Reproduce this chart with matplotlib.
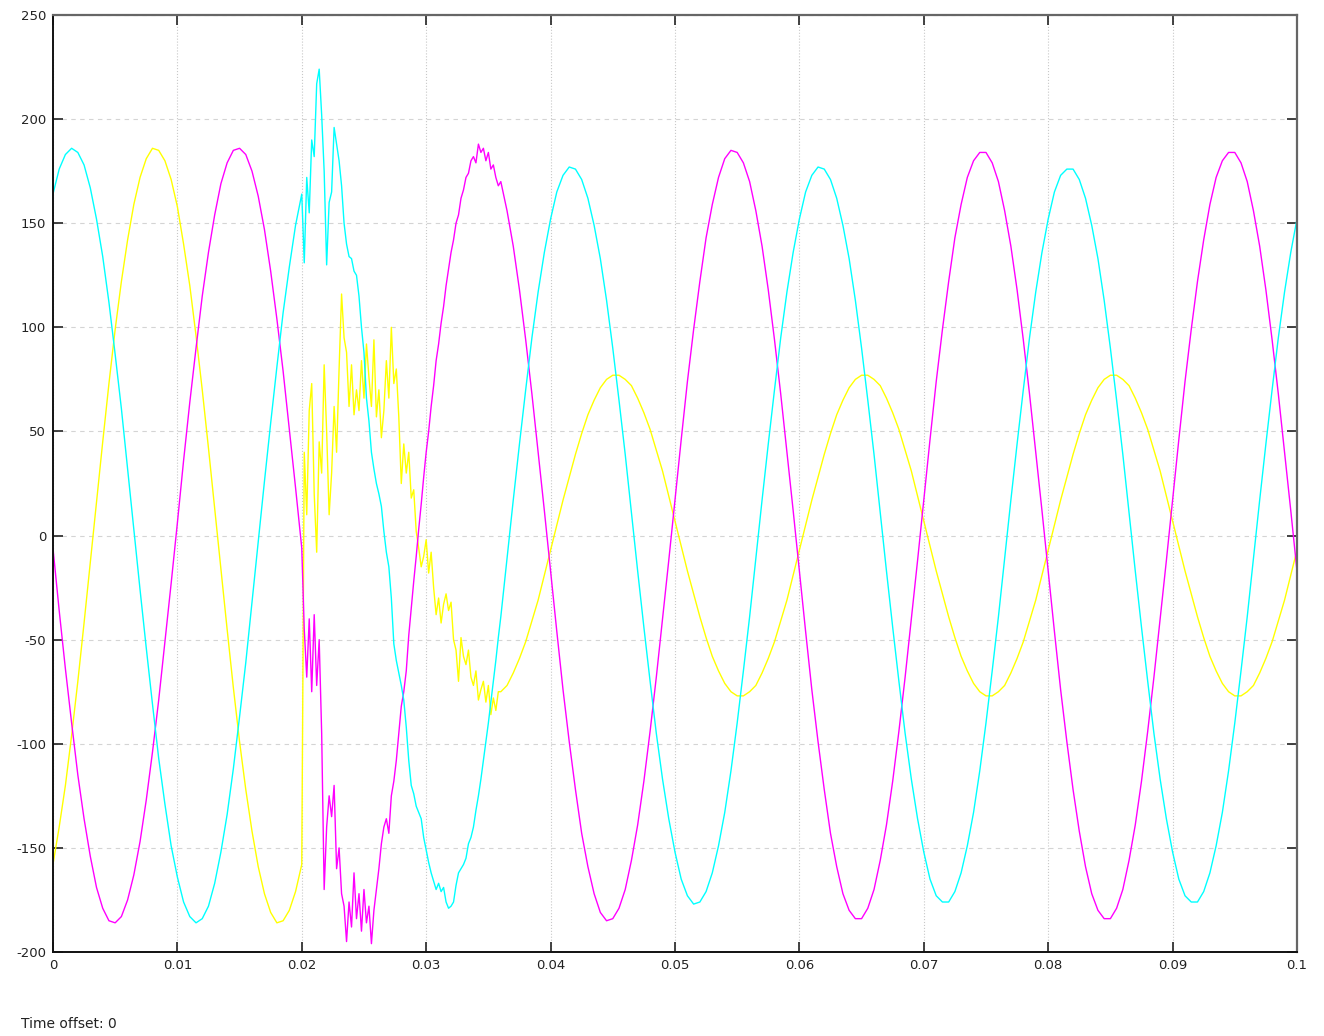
import numpy as np
import matplotlib

matplotlib.use("Agg")
import matplotlib.pyplot as plt
from matplotlib.ticker import FuncFormatter, MultipleLocator


# sample times: 0.5 ms before and after the disturbance, 0.2 ms through it
T_PRE = np.arange(0, 41) * 5e-4
T_FAULT = 0.0202 + np.arange(79) * 2e-4
T_POST = 0.036 + np.arange(129) * 5e-4

# phase values
yellow_pre = [-158, -140, -120, -96, -70, -42, -13, 16, 45, 73,
              99, 122, 142, 159, 172, 181, 186, 185, 180, 171,
              158, 140, 120, 96, 70, 42, 13, -16, -45, -73,
              -99, -122, -142, -159, -172, -181, -186, -185, -180, -171,
              -158]
magenta_pre = [-6, -36, -64, -90, -115, -136, -154, -169, -179, -185,
               -186, -183, -175, -163, -147, -127, -104, -79, -51, -23,
               6, 36, 64, 90, 115, 136, 154, 169, 179, 185,
               186, 183, 175, 163, 147, 127, 104, 79, 51, 23,
               -6]
cyan_pre = [164, 176, 183, 186, 184, 178, 167, 152, 134, 112,
            87, 61, 32, 3, -26, -54, -81, -107, -129, -149,
            -164, -176, -183, -186, -184, -178, -167, -152, -134, -112,
            -87, -61, -32, -3, 26, 54, 81, 107, 129, 149,
            164]

yellow_fault = [40, 10, 60, 73, 20, -8, 45, 30, 82, 50,
                10, 30, 62, 40, 80, 116, 95, 88, 62, 82,
                58, 70, 60, 84, 66, 92, 76, 62, 94, 57,
                70, 47, 60, 84, 66, 100, 73, 80, 57, 25,
                44, 30, 40, 18, 22, 2, -6, -15, -10, -2,
                -18, -8, -25, -38, -30, -42, -33, -28, -36, -32,
                -50, -55, -70, -49, -58, -62, -55, -68, -72, -65,
                -79, -74, -70, -80, -72, -86, -78, -84, -75]
magenta_fault = [-45, -68, -40, -75, -38, -72, -50, -95, -170, -140,
                 -125, -135, -120, -160, -150, -172, -178, -195, -176, -188,
                 -162, -184, -172, -190, -170, -186, -178, -196, -180, -170,
                 -160, -148, -140, -136, -143, -125, -118, -108, -95, -82,
                 -75, -65, -48, -35, -22, -10, 3, 15, 28, 40,
                 50, 62, 72, 84, 92, 102, 110, 120, 128, 136,
                 142, 150, 154, 162, 166, 172, 174, 180, 182, 179,
                 188, 184, 186, 180, 184, 176, 178, 172, 168]
cyan_fault = [131, 172, 155, 190, 182, 217, 224, 202, 175, 130,
              160, 165, 196, 188, 180, 168, 150, 140, 134, 133,
              127, 125, 115, 100, 88, 66, 55, 40, 32, 25,
              20, 14, 2, -8, -15, -30, -52, -60, -66, -72,
              -79, -92, -108, -120, -124, -130, -133, -136, -145, -151,
              -157, -162, -166, -170, -167, -171, -169, -176, -179, -178,
              -176, -168, -162, -160, -158, -155, -148, -145, -140, -132,
              -125, -117, -108, -99, -90, -80, -70, -60, -49]

yellow_post = [-75, -72, -66, -59, -51, -41, -31, -19, -7, 5,
               17, 28, 39, 49, 58, 65, 71, 75, 77, 77,
               75, 72, 66, 59, 51, 41, 31, 19, 7, -5,
               -17, -28, -39, -49, -58, -65, -71, -75, -77, -77,
               -75, -72, -66, -59, -51, -41, -31, -19, -7, 5,
               17, 28, 39, 49, 58, 65, 71, 75, 77, 77,
               75, 72, 66, 59, 51, 41, 31, 19, 7, -5,
               -17, -28, -39, -49, -58, -65, -71, -75, -77, -77,
               -75, -72, -66, -59, -51, -41, -31, -19, -7, 5,
               17, 28, 39, 49, 58, 65, 71, 75, 77, 77,
               75, 72, 66, 59, 51, 41, 31, 19, 7, -5,
               -17, -28, -39, -49, -58, -65, -71, -75, -77, -77,
               -75, -72, -66, -59, -51, -41, -31, -19, -7]
magenta_post = [170, 156, 139, 118, 94, 68, 40, 12, -17, -46,
                -74, -99, -122, -143, -159, -172, -181, -185, -184, -179,
                -170, -156, -139, -118, -94, -68, -40, -12, 17, 46,
                74, 99, 122, 143, 159, 172, 181, 185, 184, 179,
                170, 156, 139, 118, 94, 68, 40, 12, -17, -46,
                -74, -99, -122, -143, -159, -172, -180, -184, -184, -179,
                -170, -156, -139, -118, -94, -68, -40, -12, 17, 46,
                74, 99, 122, 143, 159, 172, 180, 184, 184, 179,
                170, 156, 139, 118, 94, 68, 40, 12, -17, -46,
                -74, -99, -122, -142, -159, -172, -180, -184, -184, -179,
                -170, -156, -139, -118, -94, -68, -40, -12, 17, 46,
                74, 99, 122, 142, 159, 172, 180, 184, 184, 179,
                170, 156, 139, 118, 94, 68, 40, 12, -17]
cyan_post = [-39, -11, 17, 44, 70, 95, 117, 136, 152, 165,
             173, 177, 176, 171, 162, 149, 133, 113, 90, 65,
             39, 11, -17, -44, -70, -95, -117, -136, -152, -165,
             -173, -177, -176, -171, -162, -149, -133, -113, -90, -65,
             -39, -11, 17, 44, 70, 95, 117, 136, 152, 165,
             173, 177, 176, 171, 162, 149, 133, 113, 90, 65,
             39, 11, -17, -44, -70, -95, -117, -136, -152, -165,
             -173, -176, -176, -171, -162, -149, -133, -113, -90, -65,
             -39, -11, 17, 44, 70, 95, 117, 136, 152, 165,
             173, 176, 176, 171, 162, 149, 133, 113, 90, 65,
             39, 11, -17, -44, -70, -95, -117, -136, -152, -165,
             -173, -176, -176, -171, -162, -149, -133, -113, -90, -65,
             -39, -11, 17, 44, 70, 95, 117, 136, 152]

X_TICKS = [0, 0.01, 0.02, 0.03, 0.04, 0.05, 0.06, 0.07, 0.08, 0.09, 0.1]

SERIES = [
    ("#ffff00", yellow_pre, yellow_fault, yellow_post),
    ("#ff00ff", magenta_pre, magenta_fault, magenta_post),
    ("#00ffff", cyan_pre, cyan_fault, cyan_post),
]


def main() -> None:
    plt.rcParams["font.family"] = ["DejaVu Sans"]
    plt.rcParams["axes.unicode_minus"] = False

    fig = plt.figure(figsize=(13.24, 10.36), dpi=100)
    ax = fig.add_axes([0.040, 0.0811, 0.9396, 0.9044])

    t = np.concatenate([T_PRE, T_FAULT, T_POST])
    for color, pre, fault, post in SERIES:
        ax.plot(t, pre + fault + post, color=color, lw=1.0)

    ax.set_xlim(0, 0.1)
    ax.set_ylim(-200, 250)
    ax.set_xticks(X_TICKS)
    ax.yaxis.set_major_locator(MultipleLocator(50))
    ax.xaxis.set_major_formatter(FuncFormatter(lambda v, _: f"{v:g}"))

    # scope style: dotted verticals, dashed horizontals, ticks inside
    ax.xaxis.grid(True, linestyle=":", color="#c8c8c8", lw=0.8)
    ax.yaxis.grid(True, linestyle=(0, (4, 4)), color="#d4d4d4", lw=0.8)
    ax.tick_params(direction="in", length=7, width=1.2, top=True, right=True,
                   labelsize=9.5, pad=5, colors="#222222")
    for side in ("left", "bottom"):
        ax.spines[side].set_color("#111111")
        ax.spines[side].set_linewidth(1.4)
    for side in ("top", "right"):
        ax.spines[side].set_color("#666666")
        ax.spines[side].set_linewidth(1.6)

    fig.text(0.016, 0.008, "Time offset: 0", fontsize=10, color="#222222")

    fig.savefig("out.png", dpi=100)
    plt.close(fig)


if __name__ == "__main__":
    main()
